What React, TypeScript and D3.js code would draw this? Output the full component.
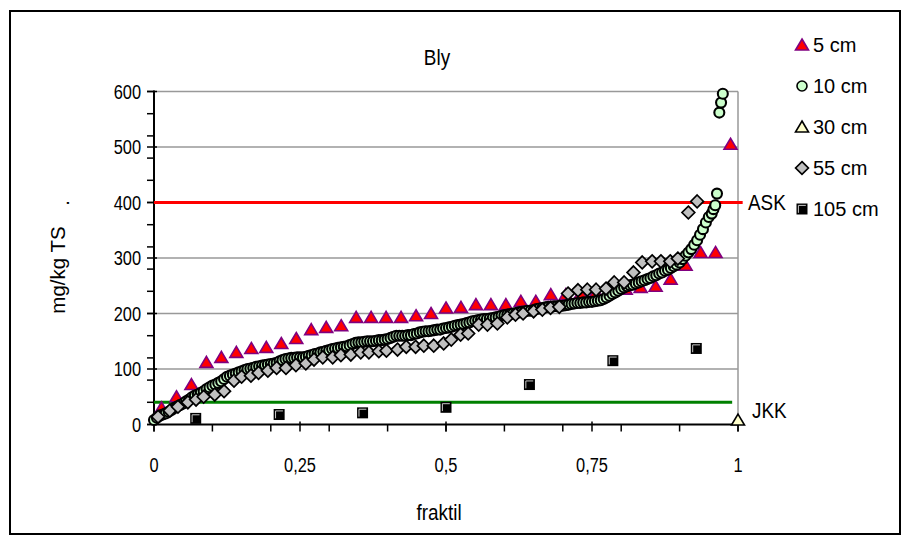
import React from "react";
import * as d3 from "d3";

// ---- data ----
const title = "Bly";
const xLabel = "fraktil";
const yLabel = "mg/kg TS";
const xTickLabels = ["0", "0,25", "0,5", "0,75", "1"];
const xTickValues = [0, 0.25, 0.5, 0.75, 1];
const yTickValues = [0, 100, 200, 300, 400, 500, 600];
const legendLabels = ["5 cm", "10 cm", "30 cm", "55 cm", "105 cm"];

// 5 cm: sorted values, fractile = (i + 0.5) / n
const values5cm = [
  30, 50, 72, 112, 121, 130, 137, 139, 146, 155, 171, 175, 178, 193, 193, 193,
  193, 196, 200, 210, 211, 216, 216, 216, 222, 222, 234, 234, 236, 238, 241,
  244, 247, 249, 262, 287, 310, 310, 505,
];

// 10 cm: [fractile, value]
const points10cm: [number, number][] = [
  [0.0, 8], [0.005, 12], [0.01, 16], [0.015, 18], [0.02, 20], [0.025, 23], [0.03, 26],
  [0.035, 30], [0.04, 33], [0.045, 35], [0.05, 38], [0.055, 42], [0.06, 45], [0.065, 49],
  [0.07, 52], [0.075, 54], [0.08, 57], [0.085, 60], [0.09, 64], [0.095, 67], [0.1, 70],
  [0.105, 72], [0.11, 75], [0.115, 78], [0.12, 82], [0.125, 86], [0.13, 88], [0.135, 90],
  [0.14, 92], [0.145, 94], [0.15, 96], [0.155, 98], [0.16, 100], [0.165, 101], [0.17, 102],
  [0.175, 104], [0.18, 105], [0.185, 106], [0.19, 107], [0.195, 108], [0.2, 109],
  [0.205, 110], [0.21, 111], [0.215, 114], [0.22, 116], [0.225, 118], [0.23, 119],
  [0.235, 120], [0.24, 120], [0.245, 121], [0.25, 121], [0.255, 121], [0.26, 122],
  [0.265, 124], [0.27, 125], [0.275, 127], [0.28, 128], [0.285, 130], [0.29, 131],
  [0.295, 133], [0.3, 134], [0.305, 136], [0.31, 137], [0.315, 138], [0.32, 139],
  [0.325, 140], [0.33, 141], [0.335, 143], [0.34, 145], [0.345, 147], [0.35, 148],
  [0.355, 148], [0.36, 149], [0.365, 150], [0.37, 150], [0.375, 150], [0.38, 151],
  [0.385, 152], [0.39, 152], [0.395, 153], [0.4, 154], [0.405, 156], [0.41, 158],
  [0.415, 160], [0.42, 160], [0.425, 160], [0.43, 160], [0.435, 161], [0.44, 161],
  [0.445, 163], [0.45, 164], [0.455, 166], [0.46, 167], [0.465, 168], [0.47, 168],
  [0.475, 169], [0.48, 170], [0.485, 171], [0.49, 171], [0.495, 173], [0.5, 174],
  [0.505, 175], [0.51, 176], [0.515, 178], [0.52, 179], [0.525, 180], [0.53, 181],
  [0.535, 183], [0.54, 184], [0.545, 186], [0.55, 187], [0.555, 188], [0.56, 189],
  [0.565, 190], [0.57, 190], [0.575, 191], [0.58, 192], [0.585, 193], [0.59, 194],
  [0.595, 196], [0.6, 197], [0.605, 198], [0.61, 199], [0.615, 200], [0.62, 201],
  [0.625, 202], [0.63, 203], [0.635, 204], [0.64, 205], [0.645, 205], [0.65, 206],
  [0.655, 208], [0.66, 209], [0.665, 210], [0.67, 211], [0.675, 212], [0.68, 212],
  [0.685, 213], [0.69, 213], [0.695, 214], [0.7, 214], [0.705, 215], [0.71, 216],
  [0.715, 217], [0.72, 218], [0.725, 219], [0.73, 219], [0.735, 220], [0.74, 220],
  [0.745, 221], [0.75, 221], [0.755, 222], [0.76, 223], [0.765, 224], [0.77, 226],
  [0.775, 229], [0.78, 232], [0.785, 235], [0.79, 238], [0.795, 241], [0.8, 244],
  [0.805, 247], [0.81, 249], [0.815, 251], [0.82, 252], [0.825, 254], [0.83, 256],
  [0.835, 258], [0.84, 260], [0.845, 262], [0.85, 264], [0.855, 267], [0.86, 269],
  [0.865, 272], [0.87, 274], [0.875, 277], [0.88, 279], [0.885, 282], [0.89, 285],
  [0.895, 288], [0.9, 292], [0.905, 298], [0.91, 304], [0.915, 310], [0.92, 316],
  [0.925, 324], [0.93, 332], [0.935, 342], [0.94, 352], [0.945, 364], [0.95, 374],
  [0.955, 380], [0.958, 388], [0.961, 395], [0.964, 416], [0.968, 562], [0.971, 580],
  [0.974, 596],
];

// 30 cm: [fractile, value]
const points30cm: [number, number][] = [[1.0, 8]];

// 55 cm: [fractile, value]
const points55cm: [number, number][] = [
  [0.007, 14], [0.027, 25], [0.041, 32], [0.058, 40], [0.072, 45], [0.085, 50],
  [0.104, 54], [0.12, 60], [0.137, 79], [0.15, 86], [0.166, 88], [0.179, 93],
  [0.195, 97], [0.21, 102], [0.226, 102], [0.243, 107], [0.26, 110], [0.274, 117],
  [0.289, 121], [0.306, 121], [0.32, 125], [0.337, 126], [0.354, 130], [0.368, 130],
  [0.385, 132], [0.398, 133], [0.417, 135], [0.432, 140], [0.448, 140], [0.462, 142],
  [0.479, 142], [0.496, 146], [0.509, 153], [0.525, 162], [0.538, 164], [0.556, 180],
  [0.571, 180], [0.588, 182], [0.605, 193], [0.619, 198], [0.632, 200], [0.65, 204],
  [0.665, 207], [0.679, 210], [0.694, 212], [0.709, 236], [0.726, 242], [0.742, 243],
  [0.757, 243], [0.774, 245], [0.788, 256], [0.805, 256], [0.821, 274], [0.836, 292],
  [0.853, 294], [0.868, 294], [0.884, 294], [0.897, 299], [0.915, 382], [0.93, 402],
];

// 105 cm: sorted values, fractile = (i + 0.5) / n
const values105cm = [11, 18, 21, 31, 72, 115, 137];

// reference levels
const askValue = 400;
const jkkValue = 40;
const askLabel = "ASK";
const jkkLabel = "JKK";

// ---- layout ----
const W = 904;
const H = 542;
const sans = "'Liberation Sans', Arial, sans-serif";

const x = d3.scaleLinear().domain([0, 1]).range([154, 738]);
const y = d3.scaleLinear().domain([0, 600]).range([424.5, 91.5]);

const triPath = "M0,-6 L6.5,5 L-6.5,5 Z";
const diaPath = "M0,-6.4 L6.4,0 L0,6.4 L-6.4,0 Z";

function NText({ x: tx, y: ty, size, sx, anchor, children }: any) {
  return (
    <text
      transform={`translate(${tx},${ty}) scale(${sx},1)`}
      dy="0.35em"
      textAnchor={anchor || "start"}
      fontFamily={sans}
      fontSize={size}
      fill="#000"
    >
      {children}
    </text>
  );
}

function Tri({ cx, cy, fill, stroke }: { cx: number; cy: number; fill: string; stroke: string }) {
  return <path d={triPath} transform={`translate(${cx},${cy})`} fill={fill} stroke={stroke} strokeWidth={1.6} />;
}
function Circ({ cx, cy, sw = 1.6 }: { cx: number; cy: number; sw?: number }) {
  return <circle cx={cx} cy={cy} r={5} fill="#ccffcc" stroke="#000" strokeWidth={sw} />;
}
function Dia({ cx, cy }: { cx: number; cy: number }) {
  return <path d={diaPath} transform={`translate(${cx},${cy})`} fill="#c0c0c0" stroke="#000" strokeWidth={1.7} />;
}
function Sq({ cx, cy }: { cx: number; cy: number }) {
  return (
    <g transform={`translate(${cx},${cy})`}>
      <rect x={-5.5} y={-5.5} width={11} height={11} fill="#000" />
      <path d="M-3.6,3.8 L-3.6,-3.6 L3.8,-3.6" fill="none" stroke="#c8c8c8" strokeWidth={1} />
    </g>
  );
}

export default function App() {
  const xMinor = d3.range(0, 1.0001, 0.1);
  const yMinor = d3.range(0, 600.001, 40);
  const grid = yTickValues.filter((v) => v > 0);
  const legendY = [45, 86, 127, 168, 209];

  return (
    <svg width={W} height={H} style={{ position: "absolute", left: 0, top: 0, background: "#fff" }}>
      <rect x={0} y={0} width={W} height={H} fill="#fff" />
      <rect x={10} y={11} width={890} height={523} fill="none" stroke="#000" strokeWidth={2} />

      {/* gridlines */}
      {grid.map((v) => (
        <line key={"g" + v} x1={x(0)} x2={x(1)} y1={y(v)} y2={y(v)} stroke="#999" strokeWidth={1.5} />
      ))}
      <line x1={x(1)} x2={x(1)} y1={y(600)} y2={y(0)} stroke="#999" strokeWidth={1.5} />

      {/* axes */}
      <line x1={x(0)} x2={x(0)} y1={y(600) - 1} y2={y(0) + 1} stroke="#000" strokeWidth={2} />
      <line x1={x(0) - 1} x2={x(1) + 1} y1={y(0)} y2={y(0)} stroke="#000" strokeWidth={2} />
      {yMinor.map((v) => (
        <line key={"ym" + v} x1={x(0) - 7} x2={x(0)} y1={y(v)} y2={y(v)} stroke="#000" strokeWidth={1.5} />
      ))}
      {yTickValues.map((v) => (
        <line key={"yM" + v} x1={x(0) - 7} x2={x(0) + 3} y1={y(v)} y2={y(v)} stroke="#000" strokeWidth={1.5} />
      ))}
      {xMinor.map((v) => (
        <line key={"xm" + v} x1={x(v)} x2={x(v)} y1={y(0)} y2={y(0) + 7} stroke="#000" strokeWidth={1.5} />
      ))}
      {xTickValues.map((v) => (
        <line key={"xM" + v} x1={x(v)} x2={x(v)} y1={y(0) - 3} y2={y(0) + 7} stroke="#000" strokeWidth={1.5} />
      ))}

      {/* tick labels */}
      {yTickValues.map((v) => (
        <NText key={"yl" + v} x={141} y={y(v)} size={20.5} sx={0.8} anchor="end">
          {v}
        </NText>
      ))}
      {xTickValues.map((v, i) => (
        <NText key={"xl" + v} x={x(v)} y={465} size={20.5} sx={0.8} anchor="middle">
          {xTickLabels[i]}
        </NText>
      ))}

      {/* titles */}
      <NText x={437} y={57} size={21.5} sx={0.88} anchor="middle">{title}</NText>
      <NText x={439} y={512} size={21.5} sx={0.88} anchor="middle">{xLabel}</NText>
      <text transform="translate(58,270) rotate(-90)" dy="0.35em" textAnchor="middle" fontFamily={sans} fontSize={20.5}>{yLabel}</text>
      <text transform="translate(62,203) rotate(-90)" dy="0.35em" textAnchor="middle" fontFamily={sans} fontSize={20}>.</text>

      {/* reference lines */}
      <line x1={x(0)} x2={x(1.008)} y1={y(askValue)} y2={y(askValue)} stroke="#ff0000" strokeWidth={3} />
      <line x1={x(0)} x2={x(0.99)} y1={y(jkkValue)} y2={y(jkkValue)} stroke="#008000" strokeWidth={3} />
      <NText x={748} y={y(askValue)} size={21.5} sx={0.88}>{askLabel}</NText>
      <NText x={752} y={410} size={21.5} sx={0.88}>{jkkLabel}</NText>

      {/* series */}
      {values5cm.map((v, i) => (
        <Tri key={"t" + i} cx={x((i + 0.5) / values5cm.length)} cy={y(v)} fill="#ff0000" stroke="#800080" />
      ))}
      {points10cm.map(([f, v], i) => (
        <Circ key={"c" + i} cx={x(f)} cy={y(v)} sw={2.1} />
      ))}
      {points30cm.map(([f, v], i) => (
        <Tri key={"t30" + i} cx={x(f)} cy={y(v)} fill="#ffffcc" stroke="#000" />
      ))}
      {points55cm.map(([f, v], i) => (
        <Dia key={"d" + i} cx={x(f)} cy={y(v)} />
      ))}
      {values105cm.map((v, i) => (
        <Sq key={"s" + i} cx={x((i + 0.5) / values105cm.length)} cy={y(v)} />
      ))}

      {/* legend */}
      <Tri cx={802} cy={legendY[0]} fill="#ff0000" stroke="#800080" />
      <Circ cx={802} cy={legendY[1]} />
      <Tri cx={802} cy={legendY[2]} fill="#ffffcc" stroke="#000" />
      <Dia cx={802} cy={legendY[3]} />
      <Sq cx={802} cy={legendY[4]} />
      {legendLabels.map((l, i) => (
        <text key={"lg" + i} x={813} y={legendY[i]} dy="0.35em" fontFamily={sans} fontSize={20}>
          {l}
        </text>
      ))}
    </svg>
  );
}
